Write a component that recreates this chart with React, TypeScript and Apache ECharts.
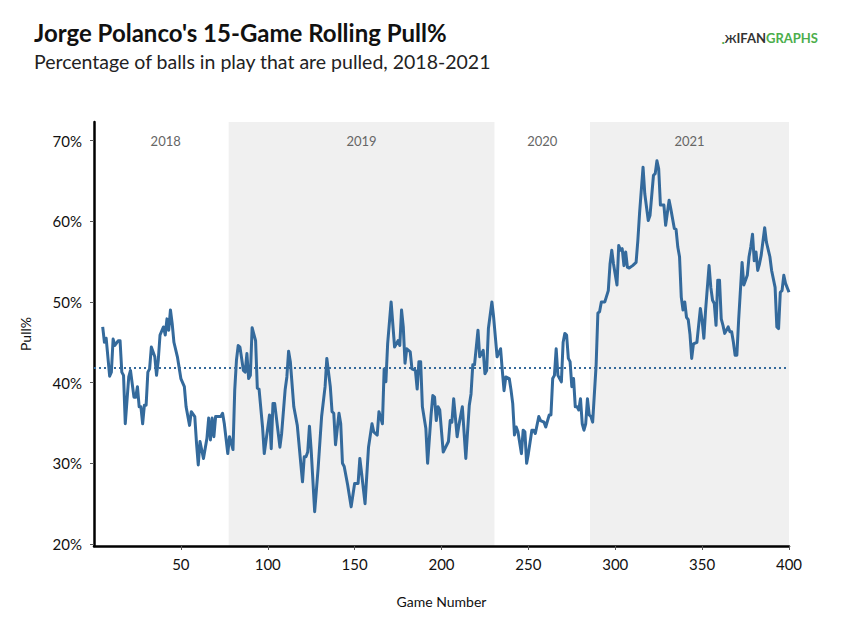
import React, { useEffect, useRef } from 'react';
import * as echarts from 'echarts';

// 15-game rolling pull%
const games = [
  5, 6, 7, 9, 10, 11, 12, 14, 15, 16, 17, 18, 20, 21, 23, 24, 25, 26, 27, 28, 29, 30, 31, 32, 33, 35, 36, 37, 38, 40,
  41, 42, 43, 44, 45, 46, 48, 50, 52, 53, 55, 56, 58, 59, 60, 61, 63, 65, 66, 67, 68, 69, 70, 73, 74, 75, 77, 78, 80, 81,
  82, 83, 84, 86, 87, 88, 89, 90, 91, 93, 94, 95, 97, 98, 101, 102, 103, 104, 107, 108, 110, 111, 112, 113, 115, 117, 119, 120, 121, 122,
  123, 124, 125, 127, 129, 131, 133, 134, 136, 137, 138, 139, 141, 142, 143, 144, 146, 148, 150, 152, 153, 154, 156, 158, 160, 161, 163, 164, 166, 167,
  168, 169, 171, 173, 175, 176, 177, 178, 179, 180, 182, 183, 185, 186, 187, 188, 189, 191, 192, 194, 195, 196, 197, 198, 199, 201, 204, 205, 206, 207,
  209, 210, 212, 214, 216, 217, 218, 219, 221, 222, 224, 225, 226, 227, 229, 230, 232, 234, 235, 236, 237, 239, 240, 241, 242, 243, 244, 246, 247, 248,
  249, 250, 252, 253, 254, 256, 257, 259, 260, 262, 263, 264, 265, 266, 267, 269, 270, 271, 272, 273, 274, 275, 276, 277, 278, 279, 280, 281, 282, 283,
  284, 285, 286, 287, 289, 290, 291, 292, 294, 296, 297, 298, 299, 301, 302, 303, 304, 305, 306, 307, 308, 310, 312, 313, 314, 316, 317, 319, 320, 322,
  323, 324, 325, 326, 328, 329, 331, 332, 334, 335, 336, 337, 338, 339, 340, 341, 342, 343, 344, 345, 347, 349, 350, 351, 352, 354, 355, 356, 357, 358,
  359, 360, 361, 362, 363, 365, 366, 367, 368, 369, 370, 371, 373, 374, 376, 377, 378, 379, 380, 381, 382, 383, 384, 386, 387, 389, 390, 392, 393, 394,
  395, 396, 397, 398, 400,
];
const pullPct = [
  46.9, 45.0, 45.5, 40.8, 41.3, 45.4, 44.6, 45.2, 45.2, 41.3, 40.9, 34.9, 40.7, 41.5, 38.2, 38.2, 39.5, 37.0, 37.0, 34.9, 37.2, 37.2, 41.3, 41.7, 44.4, 43.2, 40.9, 42.8, 45.9, 46.9,
  45.9, 47.9, 46.5, 49.0, 47.3, 45.0, 43.2, 40.5, 39.5, 37.0, 34.7, 36.4, 35.8, 32.5, 29.8, 32.7, 30.6, 33.1, 35.6, 32.9, 35.6, 33.3, 35.8, 35.8, 36.2, 34.9, 31.2, 33.3, 31.7, 39.1,
  42.8, 44.6, 44.4, 41.5, 41.3, 43.6, 40.5, 40.9, 46.8, 45.2, 39.3, 39.2, 34.5, 31.2, 36.0, 31.8, 37.4, 37.4, 32.0, 33.7, 39.1, 40.7, 43.9, 42.6, 37.0, 34.7, 30.0, 27.7, 30.8, 30.8,
  31.4, 34.6, 31.6, 24.0, 29.4, 35.8, 39.5, 43.0, 39.5, 36.4, 36.2, 32.3, 36.2, 34.9, 30.0, 29.6, 27.3, 24.6, 27.5, 27.5, 30.6, 28.8, 25.0, 32.0, 34.9, 33.9, 33.5, 36.4, 34.9, 41.7,
  40.1, 44.8, 50.0, 44.4, 45.2, 44.6, 49.0, 46.9, 42.4, 44.2, 43.8, 41.7, 41.5, 39.2, 42.6, 42.6, 37.0, 34.3, 30.0, 36.0, 38.4, 38.2, 35.3, 37.0, 36.6, 31.4, 32.7, 35.3, 35.1, 38.0,
  33.3, 34.7, 37.0, 30.6, 37.2, 38.6, 42.2, 42.2, 46.5, 43.2, 44.0, 41.1, 41.5, 46.7, 50.0, 48.1, 43.2, 44.2, 41.5, 39.0, 40.7, 40.5, 39.1, 37.4, 33.5, 34.5, 33.9, 31.2, 34.1, 33.9,
  30.0, 31.2, 34.1, 34.1, 33.7, 35.8, 35.3, 35.1, 34.5, 36.0, 36.0, 40.5, 40.9, 44.2, 40.9, 40.1, 45.0, 46.1, 45.9, 43.0, 42.6, 39.5, 40.5, 37.0, 37.0, 36.6, 38.0, 34.9, 34.1, 34.9,
  38.0, 36.0, 35.8, 35.1, 42.2, 48.6, 48.8, 50.0, 50.0, 51.4, 54.7, 56.4, 54.7, 52.1, 57.0, 56.4, 56.6, 54.5, 56.2, 54.3, 54.2, 54.5, 54.9, 57.6, 61.0, 66.7, 63.4, 60.1, 60.7, 65.7,
  65.9, 67.5, 66.5, 62.0, 62.0, 59.5, 62.6, 61.5, 59.1, 59.0, 56.8, 55.6, 50.6, 49.0, 50.0, 48.1, 47.8, 46.0, 43.0, 44.8, 45.0, 49.2, 47.7, 45.5, 49.0, 54.5, 51.8, 50.2, 49.8, 47.1,
  52.7, 52.7, 47.9, 47.1, 46.1, 46.9, 46.3, 46.3, 45.0, 43.4, 43.4, 47.7, 54.9, 52.1, 53.3, 55.6, 56.8, 58.4, 55.1, 56.2, 53.9, 54.7, 55.8, 59.2, 57.4, 55.6, 53.9, 51.8, 46.9, 46.7,
  51.2, 51.4, 53.3, 52.3, 51.2,
];

const seasons = ['2018', '2019', '2020', '2021'];
const seasonStart = [5, 77.5, 230.5, 285.5];
const seasonEnd = [77.5, 230.5, 285.5, 400];
const seasonShaded = [false, true, false, true];

const leagueAvg = 41.9;
const xTicks = [50, 100, 150, 200, 250, 300, 350, 400];
const yTicks = [20, 30, 40, 50, 60, 70];

const LINE = '#346a9c';
const FONT = 'Lato, "Noto Sans", sans-serif';

export default function App() {
  const ref = useRef<HTMLDivElement>(null);

  useEffect(() => {
    if (!ref.current) return;
    const chart = echarts.init(ref.current, null, { renderer: 'svg' });

    const areas = seasons.map((s, i) => [
      {
        xAxis: seasonStart[i],
        itemStyle: { color: seasonShaded[i] ? '#f0f0f0' : 'rgba(0,0,0,0)' },
        label: {
          show: true,
          formatter: s,
          position: 'insideTop',
          offset: [0, 7],
          color: '#666',
          fontSize: 13,
          fontFamily: FONT,
        },
      },
      { xAxis: seasonEnd[i] },
    ]);

    chart.setOption({
      animation: false,
      textStyle: { fontFamily: FONT },
      title: {
        text: "Jorge Polanco's 15-Game Rolling Pull%",
        subtext: 'Percentage of balls in play that are pulled, 2018-2021',
        left: 34,
        top: 20,
        padding: 0,
        itemGap: 7,
        textStyle: { fontFamily: FONT, fontSize: 24, fontWeight: 'bold', color: '#111' },
        subtextStyle: { fontFamily: FONT, fontSize: 19.5, color: '#222' },
      },
      graphic: [
        {
          type: 'text',
          right: 24,
          top: 31,
          style: {
            text: '{a|.}{b|Ж}{c|I}{d|FAN}{e|GRAPHS}',
            rich: {
              a: { fill: '#4cae4c', fontSize: 14, fontWeight: 'bold', fontFamily: FONT },
              b: { fill: '#333', fontSize: 11, fontWeight: 'bold', fontFamily: FONT },
              c: { fill: '#333', fontSize: 13, fontWeight: 'bold', fontFamily: FONT },
              d: { fill: '#333', fontSize: 13, fontWeight: 'bold', fontFamily: FONT },
              e: { fill: '#4cae4c', fontSize: 13, fontWeight: 'bold', fontFamily: FONT },
            },
          },
        },
      ],
      grid: { left: 94, right: 53, top: 122, bottom: 93 },
      xAxis: {
        type: 'value',
        min: 0,
        max: 400,
        name: 'Game Number',
        nameLocation: 'middle',
        nameGap: 48,
        nameTextStyle: { fontSize: 14, color: '#111', fontFamily: FONT },
        axisLine: { show: true, lineStyle: { color: '#000', width: 2.5 } },
        axisTick: { show: true, length: 4, customValues: xTicks, lineStyle: { color: '#555' } },
        axisLabel: { customValues: xTicks, fontSize: 15, color: '#111', margin: 10, fontFamily: FONT },
        splitLine: { show: false },
      },
      yAxis: {
        type: 'value',
        min: 19.75,
        max: 72.3,
        name: 'Pull%',
        nameLocation: 'middle',
        nameRotate: 90,
        nameGap: 62,
        nameTextStyle: { fontSize: 14, color: '#111', fontFamily: FONT },
        axisLine: { show: true, lineStyle: { color: '#000', width: 2.5 } },
        axisTick: { show: true, length: 4, customValues: yTicks, lineStyle: { color: '#555' } },
        axisLabel: {
          customValues: yTicks,
          formatter: (v: number) => `${v}%`,
          fontSize: 15,
          color: '#111',
          margin: 12,
          fontFamily: FONT,
        },
        splitLine: { show: false },
      },
      series: [
        {
          type: 'line',
          data: games.map((g, i) => [g, pullPct[i]]),
          showSymbol: false,
          symbol: 'none',
          lineStyle: { color: LINE, width: 3, join: 'round' },
          z: 3,
          markArea: { silent: true, data: areas, z: 0 },
          markLine: {
            silent: true,
            symbol: ['none', 'none'],
            label: { show: false },
            lineStyle: { color: LINE, type: [2, 3], width: 2 },
            data: [{ yAxis: leagueAvg }],
          },
        },
      ],
    });

    return () => chart.dispose();
  }, []);

  return (
    <div ref={ref} style={{ position: 'absolute', left: 0, top: 0, width: 842, height: 639 }} />
  );
}
